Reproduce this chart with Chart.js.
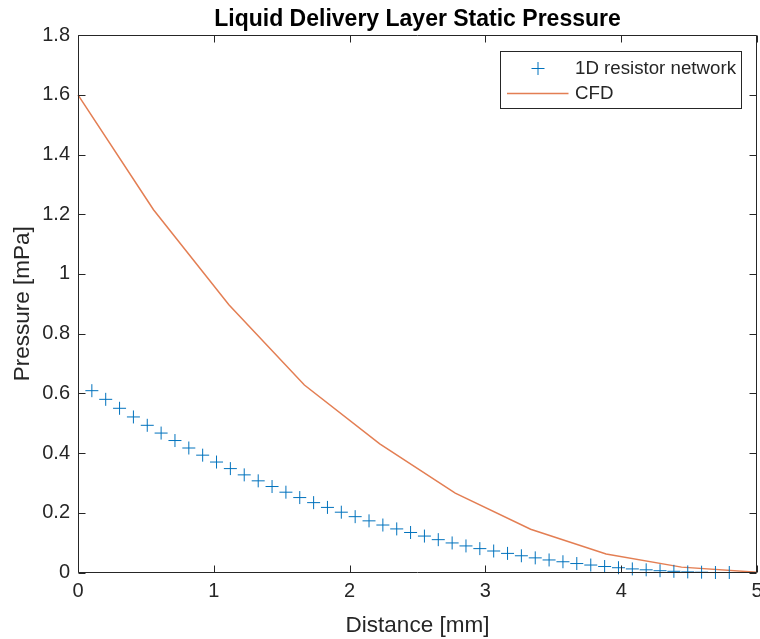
<!DOCTYPE html>
<html>
<head>
<meta charset="utf-8">
<script src="https://cdn.jsdelivr.net/npm/chart.js@4/dist/chart.umd.min.js"></script>
<style>
  html, body { margin: 0; padding: 0; background: #ffffff; }
  #wrap { width: 760px; height: 639px; }
</style>
</head>
<body>
<div id="wrap"><canvas id="c" width="760" height="639"></canvas></div>
<script>
// ---- data ----
const chartTitle = "Liquid Delivery Layer Static Pressure";
const xLabel = "Distance [mm]";
const yLabel = "Pressure [mPa]";

const resistorLabel = "1D resistor network";
const resistorX = [0.102, 0.204, 0.306, 0.408, 0.510, 0.612, 0.714, 0.816, 0.918, 1.020,
                   1.122, 1.224, 1.327, 1.429, 1.531, 1.633, 1.735, 1.837, 1.939, 2.041,
                   2.143, 2.245, 2.347, 2.449, 2.551, 2.653, 2.755, 2.857, 2.959, 3.061,
                   3.163, 3.265, 3.367, 3.469, 3.571, 3.673, 3.776, 3.878, 3.980, 4.082,
                   4.184, 4.286, 4.388, 4.490, 4.592, 4.694, 4.796];
const resistorY = [0.609, 0.580, 0.550, 0.521, 0.493, 0.467, 0.442, 0.417, 0.393, 0.370,
                   0.348, 0.327, 0.307, 0.288, 0.269, 0.251, 0.234, 0.218, 0.202, 0.187,
                   0.173, 0.159, 0.146, 0.134, 0.122, 0.110, 0.099, 0.089, 0.080, 0.072,
                   0.064, 0.056, 0.049, 0.042, 0.036, 0.030, 0.025, 0.020, 0.016, 0.012,
                   0.009, 0.006, 0.004, 0.002, 0.001, 0.000, 0.000];

const cfdLabel = "CFD";
const cfdX = [0, 0.556, 1.111, 1.667, 2.222, 2.778, 3.333, 3.889, 4.444, 5.0];
const cfdY = [1.6, 1.215, 0.897, 0.628, 0.431, 0.266, 0.145, 0.062, 0.018, 0.001];

const xTicks = [0, 1, 2, 3, 4, 5];
const yTicks = [0, 0.2, 0.4, 0.6, 0.8, 1, 1.2, 1.4, 1.6, 1.8];

// ---- styling ----
const AXIS_COLOR = '#262626';
const BLUE = '#0072BD';
const ORANGE = 'rgba(217,83,25,0.75)';
const FONT = '"Liberation Sans", Arial, Helvetica, sans-serif';

const toPts = (xs, ys) => xs.map((x, i) => ({ x: x, y: ys[i] }));

// box + inside ticks (MATLAB style)
const boxPlugin = {
  id: 'matlabBox',
  afterDatasetsDraw(chart) {
    const ctx = chart.ctx;
    const a = chart.chartArea;
    const xs = chart.scales.x, ys = chart.scales.y;
    const L = Math.round(a.left) + 0.5, R = Math.round(a.right) - 0.5;
    const T = Math.round(a.top) + 0.5, B = Math.round(a.bottom) - 0.5;
    const tl = 7;
    ctx.save();
    ctx.strokeStyle = AXIS_COLOR;
    ctx.lineWidth = 1;
    ctx.beginPath();
    ctx.rect(L, T, R - L, B - T);
    xTicks.forEach(v => {
      const p = Math.round(xs.getPixelForValue(v)) + 0.5;
      ctx.moveTo(p, B); ctx.lineTo(p, B - tl);
      ctx.moveTo(p, T); ctx.lineTo(p, T + tl);
    });
    yTicks.forEach(v => {
      const p = Math.round(ys.getPixelForValue(v)) + 0.5;
      ctx.moveTo(L, p); ctx.lineTo(L + tl, p);
      ctx.moveTo(R, p); ctx.lineTo(R - tl, p);
    });
    ctx.stroke();
    ctx.restore();
  }
};

// MATLAB-style legend box
const legendPlugin = {
  id: 'matlabLegend',
  afterDraw(chart) {
    const ctx = chart.ctx;
    const a = chart.chartArea;
    const w = 241, h = 57;
    const bx = Math.round(a.right - 16.5 - w) + 0.5;
    const by = Math.round(a.top + 16) + 0.5;
    const ds = chart.data.datasets;
    ctx.save();
    ctx.fillStyle = '#ffffff';
    ctx.fillRect(bx, by, w, h);
    ctx.strokeStyle = AXIS_COLOR;
    ctx.lineWidth = 1;
    ctx.strokeRect(bx, by, w, h);
    const y1 = by + 17, y2 = by + 42;
    const mx = bx + 37.5, r = 6.5;
    ctx.strokeStyle = ds[0].borderColor;
    ctx.lineWidth = ds[0].borderWidth;
    ctx.beginPath();
    ctx.moveTo(mx - r, y1); ctx.lineTo(mx + r, y1);
    ctx.moveTo(mx, y1 - r); ctx.lineTo(mx, y1 + r);
    ctx.stroke();
    ctx.strokeStyle = ds[1].borderColor;
    ctx.lineWidth = ds[1].borderWidth;
    ctx.beginPath();
    ctx.moveTo(bx + 6.5, y2); ctx.lineTo(bx + 68, y2);
    ctx.stroke();
    ctx.fillStyle = AXIS_COLOR;
    ctx.font = '18.7px ' + FONT;
    ctx.textBaseline = 'middle';
    ctx.textAlign = 'left';
    ctx.fillText(ds[0].label, bx + 74.5, y1);
    ctx.fillText(ds[1].label, bx + 74.5, y2);
    ctx.restore();
  }
};

new Chart(document.getElementById('c'), {
  type: 'scatter',
  data: {
    datasets: [
      {
        label: resistorLabel,
        data: toPts(resistorX, resistorY),
        showLine: false,
        pointStyle: 'cross',
        pointRadius: 6.5,
        pointHoverRadius: 6.5,
        borderColor: BLUE,
        backgroundColor: BLUE,
        borderWidth: 1,
        clip: false
      },
      {
        label: cfdLabel,
        data: toPts(cfdX, cfdY),
        showLine: true,
        pointRadius: 0,
        pointHoverRadius: 0,
        borderColor: ORANGE,
        backgroundColor: ORANGE,
        borderWidth: 1.5,
        tension: 0,
        clip: false
      }
    ]
  },
  options: {
    responsive: false,
    animation: false,
    devicePixelRatio: 1,
    layout: { autoPadding: false, padding: { left: 0, right: 3, top: 0, bottom: 0 } },
    plugins: {
      legend: { display: false },
      tooltip: { enabled: false },
      title: {
        display: true,
        fullSize: false,
        text: chartTitle,
        color: '#000000',
        font: { family: FONT, size: 23, weight: 'bold', lineHeight: 1.2 },
        padding: { top: 5.5, bottom: 2 }
      }
    },
    scales: {
      x: {
        type: 'linear',
        min: 0, max: 5,
        afterBuildTicks(scale) { scale.ticks = xTicks.map(v => ({ value: v })); },
        afterFit(scale) { scale.height = 66.5; scale.paddingLeft = 0; scale.paddingRight = 0; },
        ticks: {
          color: AXIS_COLOR,
          font: { family: FONT, size: 20 },
          padding: 7,
          maxRotation: 0,
          autoSkip: false,
          callback: v => String(v)
        },
        grid: { display: false, drawTicks: false, tickLength: 0 },
        border: { display: false },
        title: {
          display: true,
          text: xLabel,
          color: AXIS_COLOR,
          font: { family: FONT, size: 22.5, lineHeight: 1.2 },
          padding: { top: 0, bottom: 0 }
        }
      },
      y: {
        type: 'linear',
        min: 0, max: 1.8,
        afterBuildTicks(scale) { scale.ticks = yTicks.map(v => ({ value: v })); },
        afterFit(scale) { scale.width = 78; scale.paddingTop = 0; scale.paddingBottom = 0; },
        ticks: {
          color: AXIS_COLOR,
          font: { family: FONT, size: 20 },
          padding: 8,
          autoSkip: false,
          callback: v => String(+(+v).toFixed(1))
        },
        grid: { display: false, drawTicks: false, tickLength: 0 },
        border: { display: false },
        title: {
          display: true,
          text: yLabel,
          color: AXIS_COLOR,
          font: { family: FONT, size: 22.5, lineHeight: 1.2 },
          padding: { top: 9, bottom: 0 }
        }
      }
    }
  },
  plugins: [boxPlugin, legendPlugin]
});
</script>
</body>
</html>
